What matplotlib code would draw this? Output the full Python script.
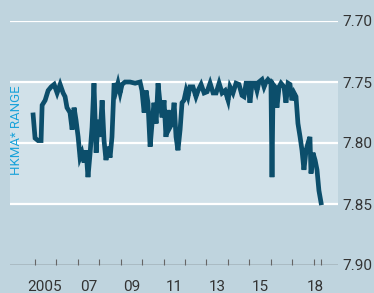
import matplotlib
matplotlib.use("Agg")
import matplotlib.pyplot as plt
from matplotlib.ticker import FixedLocator, NullFormatter

# ---- data (HK$ per US$, decimal years) ----
years = [2004.91, 2005.00, 2005.14, 2005.28, 2005.33, 2005.47, 2005.61, 2005.75, 2005.89,
         2006.03, 2006.17, 2006.31, 2006.40, 2006.49, 2006.63, 2006.73, 2006.82, 2006.91,
         2007.01, 2007.10, 2007.19, 2007.29, 2007.38, 2007.47, 2007.57, 2007.66, 2007.75,
         2007.85, 2007.94, 2008.03, 2008.13, 2008.22, 2008.31, 2008.41, 2008.50, 2008.59,
         2008.69, 2008.78, 2008.87, 2008.97, 2009.06, 2009.20, 2009.43, 2009.67, 2009.90,
         2009.99, 2010.09, 2010.18, 2010.27, 2010.37, 2010.46, 2010.55, 2010.65, 2010.74,
         2010.83, 2010.93, 2011.02, 2011.11, 2011.21, 2011.30, 2011.39, 2011.49, 2011.58,
         2011.67, 2011.77, 2011.86, 2011.95, 2012.05, 2012.14, 2012.23, 2012.37, 2012.51,
         2012.61, 2012.75, 2012.89, 2013.03, 2013.17, 2013.31, 2013.45, 2013.59, 2013.73,
         2013.87, 2014.01, 2014.10, 2014.24, 2014.38, 2014.52, 2014.66, 2014.75, 2014.85,
         2014.94, 2015.03, 2015.13, 2015.27, 2015.36, 2015.45, 2015.59, 2015.69, 2015.78,
         2015.87, 2015.97, 2016.01, 2016.06, 2016.11, 2016.20, 2016.29, 2016.39, 2016.48,
         2016.62, 2016.71, 2016.81, 2016.90, 2016.99, 2017.09, 2017.18, 2017.27, 2017.37,
         2017.46, 2017.55, 2017.65, 2017.74, 2017.83, 2017.88, 2017.97, 2018.07, 2018.16,
         2018.25, 2018.35]
rate = [7.777, 7.796, 7.798, 7.798, 7.769, 7.765, 7.757, 7.754, 7.752,
        7.759, 7.752, 7.759, 7.762, 7.771, 7.775, 7.789, 7.771, 7.781,
        7.795, 7.812, 7.808, 7.816, 7.806, 7.828, 7.808, 7.787, 7.751,
        7.808, 7.781, 7.795, 7.765, 7.798, 7.814, 7.803, 7.812, 7.795,
        7.751, 7.757, 7.751, 7.759, 7.752, 7.750, 7.750, 7.751, 7.750,
        7.757, 7.775, 7.757, 7.767, 7.803, 7.784, 7.767, 7.784, 7.751,
        7.767, 7.779, 7.765, 7.795, 7.773, 7.787, 7.784, 7.767, 7.795,
        7.806, 7.789, 7.767, 7.765, 7.757, 7.762, 7.754, 7.754, 7.762,
        7.757, 7.752, 7.759, 7.758, 7.751, 7.759, 7.759, 7.751, 7.759,
        7.757, 7.765, 7.754, 7.759, 7.751, 7.752, 7.761, 7.762, 7.751,
        7.751, 7.767, 7.751, 7.751, 7.757, 7.750, 7.748, 7.754, 7.750,
        7.748, 7.750, 7.750, 7.828, 7.752, 7.754, 7.771, 7.754, 7.751,
        7.754, 7.767, 7.751, 7.752, 7.765, 7.759, 7.762, 7.784, 7.795,
        7.806, 7.822, 7.806, 7.800, 7.795, 7.825, 7.808, 7.814, 7.822,
        7.839, 7.849]

band_low, band_high = 7.75, 7.85
y_ticks = [7.70, 7.75, 7.80, 7.85, 7.90]
y_labels = ["7.70", "7.75", "7.80", "7.85", "7.90"]
year_ticks = list(range(2005, 2019)) + [2018.35]
label_pos = [2005.45, 2007.5, 2009.5, 2011.5, 2013.5, 2015.5, 2018.1]
x_labels = ["2005", "07", "09", "11", "13", "15", "18"]

BG = "#bfd4de"
BAND = "#d1e1e9"
LINE = "#0c4e6b"
TEXT = "#333333"
CYAN = "#1ba3da"

plt.rcParams["font.family"] = ["Roboto", "DejaVu Sans"]

fig = plt.figure(figsize=(3.74, 2.93), dpi=100, facecolor=BG)
ax = fig.add_axes([10/374, 28/293, 328/374, 244/293], facecolor=BG)

ax.axhspan(band_low, band_high, color=BAND, zorder=0, lw=0)
for v in y_ticks[:-1]:
    ax.axhline(v, color="white", lw=1.6, zorder=1)
ax.axhline(y_ticks[-1], color="#555555", lw=1.0, zorder=1)

ax.plot(years, rate, color=LINE, lw=3.4, solid_joinstyle="miter", zorder=3)

ax.set_xlim(2003.83, 2019.14)
ax.set_ylim(7.90, 7.70)

for s in ax.spines.values():
    s.set_visible(False)

ax.yaxis.tick_right()
ax.set_yticks(y_ticks)
ax.set_yticklabels(y_labels)
ax.tick_params(axis="y", length=0, pad=3, labelsize=11, labelcolor=TEXT)

ax.xaxis.set_major_locator(FixedLocator(label_pos))
ax.set_xticklabels(x_labels)
ax.xaxis.set_minor_locator(FixedLocator(year_ticks))
ax.xaxis.set_minor_formatter(NullFormatter())
ax.tick_params(axis="x", which="major", length=0, pad=11, labelsize=11, labelcolor=TEXT)
ax.tick_params(axis="x", which="minor", length=4, width=0.8, color="#666666", direction="in")

fig.text(17/374, 1 - 130/293, "HKMA* RANGE", rotation=90, color=CYAN,
         fontsize=9.5, ha="center", va="center")

fig.savefig("out.png", dpi=100, facecolor=BG)
